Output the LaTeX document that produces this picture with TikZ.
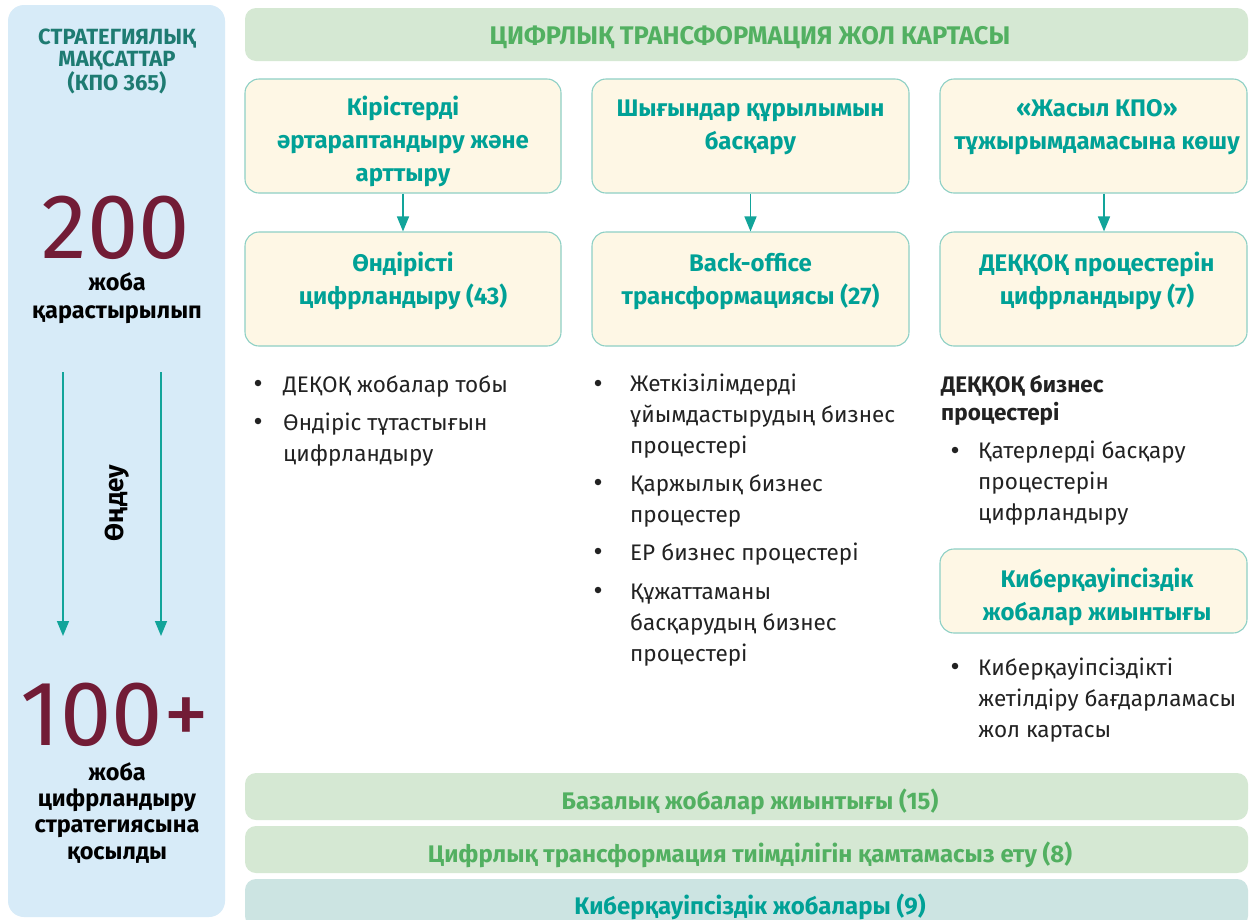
\documentclass[tikz,border=0pt]{standalone}
\usepackage{fontspec}
\setmainfont{Fira Sans}
\usetikzlibrary{arrows.meta,calc}
\definecolor{panelblue}{HTML}{D7EBF8}
\definecolor{bannergreen}{HTML}{D5E8D3}
\definecolor{bannerteal}{HTML}{CCE4E2}
\definecolor{txtgreen}{HTML}{52B061}
\definecolor{cream}{HTML}{FEF7E5}
\definecolor{boxline}{HTML}{8ED0C5}
\definecolor{tealtxt}{HTML}{00A196}
\definecolor{arrteal}{HTML}{12A49A}
\definecolor{darkred}{HTML}{721C36}
\definecolor{darkteal}{HTML}{1E7B72}
\definecolor{bodytxt}{HTML}{222222}
\begin{document}
\begin{tikzpicture}[x=1pt,y=-1pt,
  card/.style={draw=boxline, fill=cream, line width=1.1pt, rounded corners=14pt, inner sep=0pt},
  banner/.style={fill=bannergreen, rounded corners=11pt, inner sep=0pt},
  head/.style={text=tealtxt, align=center, inner sep=0pt, anchor=base, font=\fontsize{24}{33}\selectfont\bfseries},
  bantxt/.style={text=txtgreen, inner sep=0pt, anchor=base, font=\fontsize{24}{28}\selectfont\bfseries},
  item/.style={text=bodytxt, align=left, inner sep=0pt, anchor=base west, font=\fontsize{22.5}{31}\selectfont},
  bul/.style={circle, fill=bodytxt, inner sep=0pt, minimum size=6.5pt},
  arr/.style={draw=arrteal, line width=1.5pt, -{Triangle[length=15pt,width=12pt]}},
  bignum/.style={text=darkred, inner sep=0pt, anchor=base, text height=64pt, text depth=0pt, font=\fontsize{92}{92}\selectfont},
  lefttxt/.style={text=black, align=center, inner sep=0pt, anchor=base, font=\fontsize{23.5}{27}\selectfont\bfseries}
]
\useasboundingbox (0,0) rectangle (1249,919);
\fill[white] (0,0) rectangle (1249,919);

% left panel
\fill[panelblue, rounded corners=16pt] (8,5) rectangle (225,917);
\node[text=darkteal, align=center, inner sep=0pt, anchor=base, font=\fontsize{22}{21.5}\selectfont\bfseries] (goal) at (117,90) {СТРАТЕГИЯЛЫҚ\\МАҚСАТТАР\\(КПО 365)};
\node[bignum] (n200) at (116,258) {200};
\node[lefttxt, font=\fontsize{23.5}{28}\selectfont\bfseries] (t200) at (117,318) {жоба\\қарастырылып};
\coordinate (la1) at (63,372);
\coordinate (lb1) at (63,636);
\coordinate (la2) at (161,372);
\coordinate (lb2) at (161,636);
\draw[arr] (la1) -- (lb1);
\draw[arr] (la2) -- (lb2);
\node[rotate=90, inner sep=0pt, font=\fontsize{26}{30}\selectfont\bfseries] (proc) at (117,503) {Өңдеу};
\node[bignum] (n100) at (115,745) {100+};
\node[lefttxt, font=\fontsize{23.5}{26.3}\selectfont\bfseries] (t100) at (117,859) {жоба\\цифрландыру\\стратегиясына\\қосылды};

% top banner
\node[banner, minimum width=1003pt, minimum height=53pt] (top) at (746.5,34.5) {};
\node[bantxt, font=\fontsize{25.5}{28}\selectfont\bfseries] (toptxt) at (750,44) {ЦИФРЛЫҚ ТРАНСФОРМАЦИЯ ЖОЛ КАРТАСЫ};

% row 1 boxes
\node[card, minimum width=316pt, minimum height=114pt] (b1) at (403,136) {};
\node[card, minimum width=317pt, minimum height=114pt] (b2) at (750.5,136) {};
\node[card, minimum width=307pt, minimum height=114pt] (b3) at (1093.5,136) {};
\node[head] (h1) at (403,181) {Кірістерді\\әртараптандыру және\\арттыру};
\node[head] (h2) at (750.5,149) {Шығындар құрылымын\\басқару};
\node[head] (h3) at (1097,149) {«Жасыл КПО»\\тұжырымдамасына көшу};

% row 2 boxes
\node[card, minimum width=316pt, minimum height=114pt] (c1) at (403,289) {};
\node[card, minimum width=317pt, minimum height=114pt] (c2) at (750.5,289) {};
\node[card, minimum width=307pt, minimum height=114pt] (c3) at (1093.5,289) {};
\node[head] (g1) at (403,304) {Өндірісті\\цифрландыру (43)};
\node[head] (g2) at (750.5,304) {Back-office\\трансформациясы (27)};
\node[head] (g3) at (1097,304) {ДЕҚҚОҚ процестерін\\цифрландыру (7)};

\draw[arr] (b1.south) -- (c1.north);
\draw[arr] (b2.south) -- (c2.north);
\draw[arr] ($(b3.south)+(10.5,0)$) -- ($(c3.north)+(10.5,0)$);

% column 1 bullets
\node[bul] (p1a) at (258,383) {};
\node[item] (i1a) at (283,392) {ДЕҚОҚ жобалар тобы};
\node[bul] (p1b) at (258,421) {};
\node[item] (i1b) at (283,461) {Өндіріс тұтастығын\\цифрландыру};

% column 2 bullets
\node[bul] (p2a) at (598,383) {};
\node[item] (i2a) at (630,453) {Жеткізілімдерді\\ұйымдастырудың бизнес\\процестері};
\node[bul] (p2b) at (598,482) {};
\node[item] (i2b) at (630,522) {Қаржылық бизнес\\процестер};
\node[bul] (p2c) at (598,551) {};
\node[item] (i2c) at (630,560) {ЕР бизнес процестері};
\node[bul] (p2d) at (598,590) {};
\node[item] (i2d) at (630,661) {Құжаттаманы\\басқарудың бизнес\\процестері};

% column 3
\node[item, font=\fontsize{22.5}{28}\selectfont\bfseries] (k3) at (941,420) {ДЕҚҚОҚ бизнес\\процестері};
\node[bul] (p3a) at (955,450) {};
\node[item] (i3a) at (978,520) {Қатерлерді басқару\\процестерін\\цифрландыру};
\node[card, minimum width=307pt, minimum height=84pt] (cy) at (1093.5,591) {};
\node[head] (cyt) at (1097,620) {Киберқауіпсіздік\\жобалар жиынтығы};
\node[bul] (p3b) at (955,666) {};
\node[item] (i3b) at (978,737) {Киберқауіпсіздікті\\жетілдіру бағдарламасы\\жол картасы};

% bottom banners
\node[banner, minimum width=1003pt, minimum height=47pt] (bb1) at (746.5,796.5) {};
\node[bantxt] (bt1) at (750,809) {Базалық жобалар жиынтығы (15)};
\node[banner, minimum width=1003pt, minimum height=47pt] (bb2) at (746.5,849.5) {};
\node[bantxt] (bt2) at (750,862) {Цифрлық трансформация тиімділігін қамтамасыз ету (8)};
\node[banner, fill=bannerteal, minimum width=1003pt, minimum height=48pt] (bb3) at (746.5,903) {};
\node[bantxt, text=tealtxt] (bt3) at (750,914) {Киберқауіпсіздік жобалары (9)};
\end{tikzpicture}
\end{document}
